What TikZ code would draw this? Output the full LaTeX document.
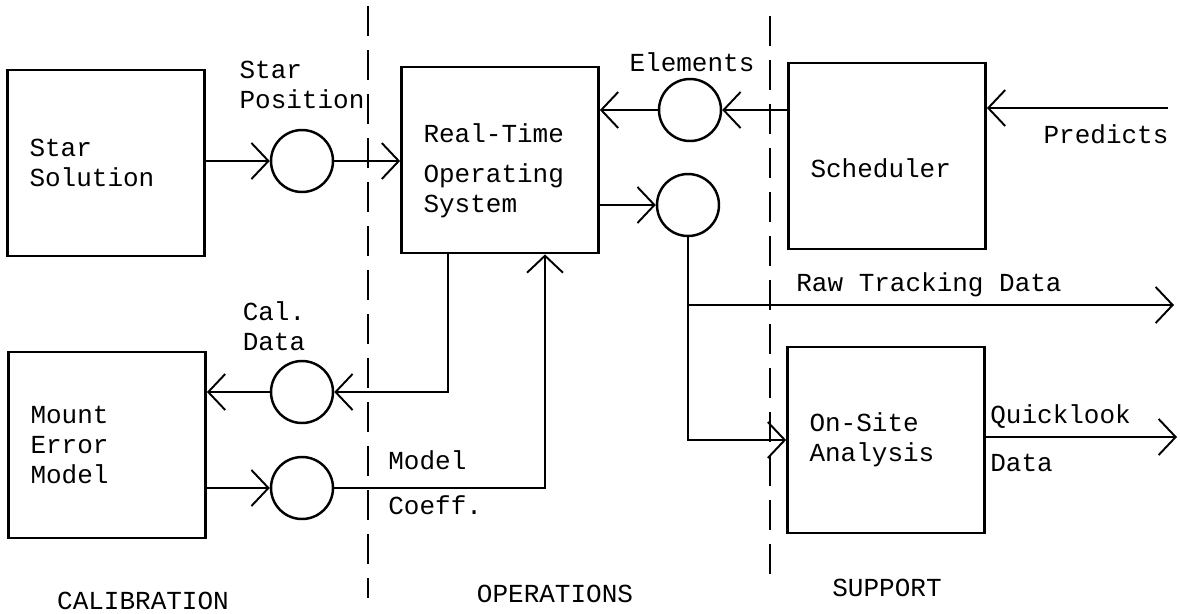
\documentclass[tikz,border=0pt]{standalone}
\usepackage{fontspec}
\setmonofont{Liberation Mono}
\usetikzlibrary{arrows.meta, positioning}

\begin{document}
\begin{tikzpicture}[
  x=0.02cm, y=-0.02cm,
  font=\ttfamily\fontsize{14.8}{17}\selectfont,
  blk/.style={draw, line width=1.6pt, minimum height=3.72cm,
              text width=3.06cm, inner xsep=0.44cm, inner ysep=2pt,
              align=left},
  pt/.style={draw, circle, line width=1.4pt, minimum size=1.24cm,
             inner sep=0pt},
  arr/.style={-{Straight Barb[length=0.34cm, width=0.72cm]},
              line width=1.1pt},
  lbl/.style={align=left, inner sep=0pt},
  bnd/.style={line width=1.6pt, dash pattern=on 0.6cm off 0.28cm}
]
\useasboundingbox (0,0) rectangle (1180,613);

% blocks
\node[blk] (ssol) at (106,163) {Star\\Solution};
\node[blk, text height=0.81cm] (rtos) at (500,160)
  {Real-Time\\[6pt]Operating\\System};
\node[blk, text height=0.84cm, text depth=0pt] (sched) at (887,156) {Scheduler};
\node[blk] (merr)   at (107,445) {Mount\\Error\\Model};
\node[blk] (onsite) at (886,440) {On-Site\\Analysis};

% data stores
\node[pt] (cstar)  at (302,161) {};
\node[pt] (celem)  at (690,110) {};
\node[pt] (ctrack) at (688,205) {};
\node[pt] (ccal)   at (302,392) {};
\node[pt] (ccoef)  at (302,488) {};

% labels
\node[lbl] (lpos)  at (302,85)  {Star\\Position};
\node[lbl] (lelem) at (692,62)  {Elements};
\node[lbl] (lpred) at (1106,134) {Predicts};
\node[lbl] (lraw)  at (929,285) {Raw Tracking Data};
\node[lbl] (lcal)  at (274,326) {Cal.\\Data};
\node[lbl, anchor=west] (lmod)   at (388,460) {Model};
\node[lbl, anchor=west] (lcoef)  at (388,505) {Coeff.};
\node[lbl, anchor=west] (lquick) at (990,417) {Quicklook};
\node[lbl, anchor=west] (lqdata) at (990,463) {Data};
\node (lcalib) at (143,601) {CALIBRATION};
\node (lops)   at (555,594) {OPERATIONS};
\node (lsup)   at (887,588) {SUPPORT};

% free ends and bends
\coordinate (pred)     at (1168,108);
\coordinate (rawend)   at (1174,305);
\coordinate (qend)     at (1177,437);
\coordinate (calbend)  at (448,392);
\coordinate (coefbend) at (545,488);
\coordinate (trkbend)  at (688,440);

% area boundaries
\draw[bnd] (368,6)  -- (368,598);
\draw[bnd] (770,16) -- (770,580);

% flows
\draw[arr] (ssol.east |- cstar) -- (cstar);
\draw[arr] (cstar) -- (rtos.west |- cstar);
\draw[arr] (sched.west |- celem) -- (celem);
\draw[arr] (celem) -- (rtos.east |- celem);
\draw[arr] (pred) -- (sched.east |- pred);
\draw[arr] (rtos.east |- ctrack) -- (ctrack);
\draw[arr] (ctrack) -- (trkbend) -- (onsite.west |- trkbend);
\draw[arr] (ctrack |- rawend) -- (rawend);
\draw[arr] (onsite.east |- qend) -- (qend);
\draw[arr] (rtos.south -| calbend) -- (calbend) -- (ccal);
\draw[arr] (ccal) -- (merr.east |- ccal);
\draw[arr] (merr.east |- ccoef) -- (ccoef);
\draw[arr] (ccoef) -- (coefbend) -- (rtos.south -| coefbend);
\end{tikzpicture}
\end{document}
